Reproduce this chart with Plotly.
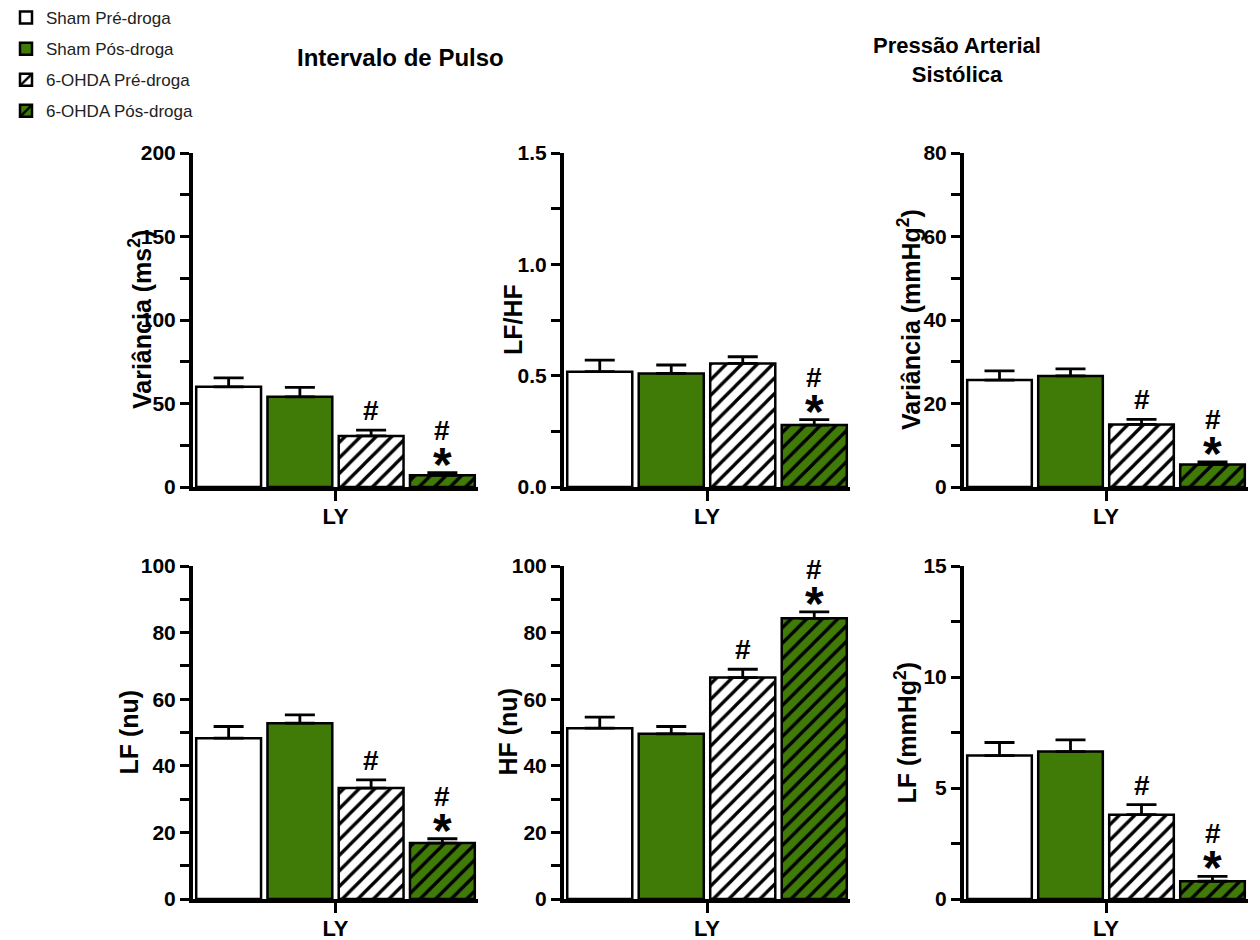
import plotly.graph_objects as go

# ---------------- data ----------------
groups = ["Sham Pré-droga", "Sham Pós-droga", "6-OHDA Pré-droga", "6-OHDA Pós-droga"]
category = ["LY"]

ip_var_mean = [60.0, 54.0, 30.6, 7.0]
ip_var_sem = [5.4, 5.6, 3.4, 1.6]
ip_lfhf_mean = [0.518, 0.510, 0.555, 0.278]
ip_lfhf_sem = [0.052, 0.038, 0.030, 0.025]
pas_var_mean = [25.6, 26.6, 15.0, 5.4]
pas_var_sem = [2.2, 1.7, 1.2, 0.6]
ip_lf_mean = [48.3, 52.8, 33.3, 16.8]
ip_lf_sem = [3.5, 2.5, 2.5, 1.3]
ip_hf_mean = [51.3, 49.6, 66.5, 84.3]
ip_hf_sem = [3.3, 2.2, 2.5, 1.9]
pas_lf_mean = [6.46, 6.64, 3.80, 0.80]
pas_lf_sem = [0.59, 0.53, 0.45, 0.22]

# significance marks per bar ("#" vs Sham, "*" vs pré-droga)
hash_marks = [
    [False, False, True, True],
    [False, False, False, True],
    [False, False, True, True],
    [False, False, True, True],
    [False, False, True, True],
    [False, False, True, True],
]
star_marks = [
    [False, False, False, True],
    [False, False, False, True],
    [False, False, False, True],
    [False, False, False, True],
    [False, False, False, True],
    [False, False, False, True],
]

y_titles = ["Variância (ms<sup>2</sup>)", "LF/HF", "Variância (mmHg<sup>2</sup>)",
            "LF (nu)", "HF (nu)", "LF (mmHg<sup>2</sup>)"]
y_max = [200, 1.5, 80, 100, 100, 15]
y_dtick = [50, 0.5, 20, 20, 20, 5]
y_minor = [25, 0.25, 10, 10, 10, 2.5]
y_fmt = ["d", ".1f", "d", "d", "d", "d"]

means = [ip_var_mean, ip_lfhf_mean, pas_var_mean, ip_lf_mean, ip_hf_mean, pas_lf_mean]
sems = [ip_var_sem, ip_lfhf_sem, pas_var_sem, ip_lf_sem, ip_hf_sem, pas_lf_sem]

# ---------------- style ----------------
W, H = 1260, 940
GREEN = "#3f7b06"
fills = ["white", GREEN, "white", GREEN]
patterns = ["", "", "/", "/"]
FONT = "Liberation Sans, Arial, sans-serif"

# panel pixel boxes (left, right, top, bottom)
col_px = [(193, 478), (564, 850), (964, 1248)]
row_px = [(153, 487), (566, 899)]
ytitle_x = [140, 513, 909, 128, 507, 905]

BARGAP = 0.0
BARGROUPGAP = 0.09

fig = go.Figure()
layout_axes = {}
annotations = []

for p in range(6):
    r, c = divmod(p, 3)
    x0, x1 = col_px[c]
    t, b = row_px[r]
    xd = [x0 / W, x1 / W]
    yd = [1 - b / H, 1 - t / H]
    sfx = "" if p == 0 else str(p + 1)
    xa, ya = "x" + sfx, "y" + sfx
    for k in range(4):
        fig.add_trace(go.Bar(
            x=category, y=[means[p][k]], name=groups[k],
            xaxis=xa, yaxis=ya,
            legendgroup=groups[k], showlegend=(p == 0),
            marker=dict(color=fills[k], line=dict(color="black", width=2.5),
                        pattern=dict(shape=patterns[k], fgcolor="black", fgopacity=1,
                                     size=11, solidity=0.3)),
            error_y=dict(type="data", array=[sems[p][k]], arrayminus=[0],
                         symmetric=False, color="black", thickness=2.8, width=15),
        ))
        # bar center within the group
        gw = 1 - BARGAP
        xc = -gw / 2 + (k + 0.5) * gw / 4
        top = means[p][k] + sems[p][k]
        if star_marks[p][k]:
            annotations.append(dict(x=xc, y=top, xref=xa, yref=ya, text="*",
                                    showarrow=False, yanchor="bottom", yshift=-20,
                                    font=dict(family=FONT, size=48, color="black",
                                              weight="bold")))
        if hash_marks[p][k]:
            shift = 25 if star_marks[p][k] else 2
            annotations.append(dict(x=xc, y=top, xref=xa, yref=ya, text="#",
                                    showarrow=False, yanchor="bottom", yshift=shift,
                                    font=dict(family=FONT, size=28, color="black",
                                              weight="bold")))
    annotations.append(dict(x=ytitle_x[p] / W, y=(yd[0] + yd[1]) / 2, xref="paper", yref="paper",
                            text=y_titles[p], textangle=-90, showarrow=False,
                            xanchor="center", yanchor="middle",
                            font=dict(family=FONT, size=25, color="black", weight="bold")))
    layout_axes["xaxis" + sfx] = dict(
        domain=xd, anchor=ya, type="category", range=[-0.5, 0.5],
        showline=True, linecolor="black", linewidth=4,
        ticks="outside", ticklen=10, tickwidth=3, tickcolor="black",
        ticklabelstandoff=-3, automargin=False,
        tickfont=dict(family=FONT, size=22, color="black", weight="bold"),
        showgrid=False, zeroline=False, fixedrange=True,
    )
    layout_axes["yaxis" + sfx] = dict(
        domain=yd, anchor=xa, range=[0, y_max[p]], automargin=False,
        tickmode="linear", tick0=0, dtick=y_dtick[p], tickformat=y_fmt[p],
        showline=True, linecolor="black", linewidth=4,
        ticks="outside", ticklen=9, tickwidth=3, tickcolor="black",
        minor=dict(dtick=y_minor[p], tick0=0, ticks="outside", ticklen=9,
                   tickwidth=3, tickcolor="black", showgrid=False),
        tickfont=dict(family=FONT, size=21, color="black", weight="bold"),
        showgrid=False, zeroline=False, fixedrange=True,
    )

annotations.append(dict(x=400 / W, y=1 - 57 / H, xref="paper", yref="paper",
                        text="Intervalo de Pulso", showarrow=False,
                        xanchor="center", yanchor="middle",
                        font=dict(family=FONT, size=24, color="black", weight="bold")))
annotations.append(dict(x=957 / W, y=1 - 60 / H, xref="paper", yref="paper",
                        text="Pressão Arterial<br>Sistólica", showarrow=False,
                        xanchor="center", yanchor="middle",
                        font=dict(family=FONT, size=22, color="black", weight="bold")))

fig.update_layout(
    width=W, height=H,
    margin=dict(l=0, r=0, t=0, b=0, autoexpand=False),
    paper_bgcolor="white", plot_bgcolor="white",
    barmode="group", bargap=BARGAP, bargroupgap=BARGROUPGAP,
    font=dict(family=FONT, color="black"),
    legend=dict(x=6 / W, y=1.0, xanchor="left", yanchor="top",
                font=dict(family=FONT, size=17, color="#222222"),
                tracegroupgap=6, bgcolor="rgba(0,0,0,0)"),
    annotations=annotations,
    **layout_axes,
)

fig.write_html("out.html", config={"displayModeBar": False},
               post_script="document.body.style.margin='0';")
